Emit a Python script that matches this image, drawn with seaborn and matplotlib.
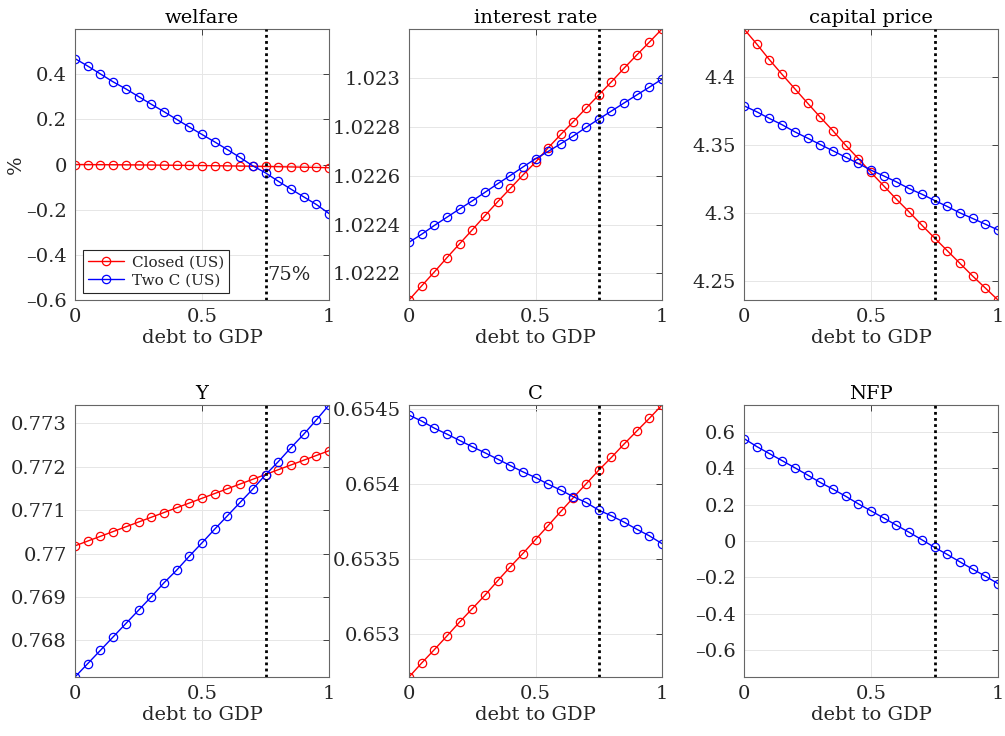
import numpy as np
import pandas as pd
import seaborn as sns
import matplotlib
matplotlib.use("Agg")
import matplotlib.pyplot as plt
from matplotlib.ticker import FuncFormatter, FixedLocator

# debt-to-GDP grid
debt = [0.00, 0.05, 0.10, 0.15, 0.20, 0.25, 0.30, 0.35, 0.40, 0.45, 0.50,
        0.55, 0.60, 0.65, 0.70, 0.75, 0.80, 0.85, 0.90, 0.95, 1.00]

# welfare (%)
welfare_closed = [0.000, -0.0003, -0.0006, -0.0010, -0.0014, -0.0018, -0.0023,
                  -0.0028, -0.0034, -0.0040, -0.0047, -0.0054, -0.0062, -0.0070,
                  -0.0079, -0.0088, -0.0098, -0.0108, -0.0119, -0.0130, -0.0142]
welfare_two = [0.469, 0.436, 0.401, 0.366, 0.335, 0.301, 0.267, 0.234, 0.200,
               0.166, 0.133, 0.100, 0.066, 0.031, -0.006, -0.037, -0.074,
               -0.109, -0.143, -0.177, -0.217]

# interest rate
rate_closed = [1.022090, 1.022148, 1.022205, 1.022264, 1.022321, 1.022378,
               1.022436, 1.022493, 1.022548, 1.022603, 1.022656, 1.022715,
               1.022770, 1.022823, 1.022878, 1.022932, 1.022986, 1.023042,
               1.023096, 1.023149, 1.023203]
rate_two = [1.022327, 1.022360, 1.022396, 1.022430, 1.022464, 1.022497,
            1.022532, 1.022567, 1.022601, 1.022636, 1.022670, 1.022700,
            1.022732, 1.022764, 1.022799, 1.022833, 1.022866, 1.022899,
            1.022932, 1.022964, 1.022997]

# capital price
price_closed = [4.4350, 4.4240, 4.4125, 4.4017, 4.3912, 4.3807, 4.3704,
                4.3604, 4.3498, 4.3400, 4.3298, 4.3200, 4.3102, 4.3009,
                4.2912, 4.2818, 4.2725, 4.2632, 4.2539, 4.2451, 4.2363]
price_two = [4.3787, 4.3743, 4.3694, 4.3648, 4.3596, 4.3550, 4.3503, 4.3457,
             4.3410, 4.3364, 4.3315, 4.3273, 4.3229, 4.3180, 4.3139, 4.3093,
             4.3049, 4.3002, 4.2961, 4.2919, 4.2877]

# output
y_closed = [0.770177, 0.770287, 0.770396, 0.770506, 0.770615, 0.770725,
            0.770835, 0.770944, 0.771054, 0.771163, 0.771273, 0.771383,
            0.771492, 0.771602, 0.771711, 0.771821, 0.771931, 0.772040,
            0.772150, 0.772259, 0.772369]
y_two = [0.767154, 0.767462, 0.767769, 0.768077, 0.768385, 0.768692,
         0.769000, 0.769323, 0.769615, 0.769938, 0.770246, 0.770562,
         0.770869, 0.771177, 0.771485, 0.771815, 0.772115, 0.772438,
         0.772746, 0.773077, 0.773423]

# consumption
c_closed = [0.652716, 0.652809, 0.652898, 0.652989, 0.653082, 0.653171,
            0.653260, 0.653356, 0.653449, 0.653538, 0.653631, 0.653724,
            0.653818, 0.653911, 0.654002, 0.654093, 0.654178, 0.654267,
            0.654353, 0.654438, 0.654527]
c_two = [0.654460, 0.654420, 0.654373, 0.654333, 0.654291, 0.654249,
         0.654209, 0.654167, 0.654124, 0.654082, 0.654044, 0.654000,
         0.653960, 0.653916, 0.653878, 0.653827, 0.653789, 0.653747,
         0.653700, 0.653656, 0.653604]

# net foreign position (two-country model only)
nfp_two = [0.565, 0.521, 0.482, 0.443, 0.404, 0.364, 0.323, 0.286, 0.247,
           0.205, 0.166, 0.127, 0.087, 0.048, 0.007, -0.035, -0.074, -0.115,
           -0.155, -0.194, -0.235]

series_names = ["Closed (US)", "Two C (US)"]
threshold = 0.75

panels = [
    ("welfare", welfare_closed, welfare_two, (-0.6, 0.6), [-0.6, -0.4, -0.2, 0, 0.2, 0.4]),
    ("interest rate", rate_closed, rate_two, (min(rate_closed), max(rate_closed)),
     [1.0222, 1.0224, 1.0226, 1.0228, 1.0230]),
    ("capital price", price_closed, price_two, (min(price_closed), max(price_closed)),
     [4.25, 4.30, 4.35, 4.40]),
    ("Y", y_closed, y_two, (min(y_two), max(y_two)),
     [0.768, 0.769, 0.770, 0.771, 0.772, 0.773]),
    ("C", c_closed, c_two, (min(c_closed), max(c_closed)),
     [0.6530, 0.6535, 0.6540, 0.6545]),
    ("NFP", None, nfp_two, (-0.75, 0.75), [-0.6, -0.4, -0.2, 0, 0.2, 0.4, 0.6]),
]

sns.set_theme(style="white")
plt.rcParams["font.family"] = ["DejaVu Serif"]

palette = {"Closed (US)": "#ff0000", "Two C (US)": "#0000ff"}
ink = "#262626"

fig = plt.figure(figsize=(10.05, 7.36), dpi=100)
W, H = 1005, 736
col_x = [(75, 329), (409, 662), (744, 998)]
row_y = [(29, 300), (405, 677)]


def fmt(v, pos):
    # compact number, with a short dash for negatives
    s = f"{v:.6g}"
    return s.replace("-", "\u2013")


for i, (name, closed, two, ylim, yticks) in enumerate(panels):
    r, c = divmod(i, 3)
    x0, x1 = col_x[c]
    y0, y1 = row_y[r]
    ax = fig.add_axes([x0 / W, 1 - y1 / H, (x1 - x0) / W, (y1 - y0) / H])

    frames = []
    if closed is not None:
        frames.append(pd.DataFrame({"debt": debt, "value": closed, "model": series_names[0]}))
    frames.append(pd.DataFrame({"debt": debt, "value": two, "model": series_names[1]}))
    df = pd.concat(frames, ignore_index=True)

    sns.lineplot(data=df, x="debt", y="value", hue="model", palette=palette,
                 ax=ax, marker="o", markersize=6, markerfacecolor="none",
                 markeredgewidth=0.9, linewidth=1.0, legend=False, sort=False,
                 estimator=None)
    for line in ax.get_lines():
        line.set_markeredgecolor(line.get_color())

    ax.axvline(threshold, color="black", linestyle=(0, (1, 1.2)), linewidth=2.0, zorder=5)

    ax.set_xlim(0, 1)
    ax.set_ylim(*ylim)
    ax.xaxis.set_major_locator(FixedLocator([0, 0.5, 1]))
    ax.yaxis.set_major_locator(FixedLocator(yticks))
    ax.xaxis.set_major_formatter(FuncFormatter(fmt))
    ax.yaxis.set_major_formatter(FuncFormatter(fmt))
    ax.grid(True, color="#e6e6e6", linewidth=0.7)
    ax.set_axisbelow(True)
    ax.tick_params(axis="both", which="major", direction="in", length=4,
                   width=0.6, color=ink, labelsize=14, labelcolor=ink,
                   top=True, right=True, pad=6)
    for sp in ax.spines.values():
        sp.set_color("#666666")
        sp.set_linewidth(0.8)

    ax.set_title(name, fontsize=14, color="black", pad=4)
    ax.set_xlabel("debt to GDP", fontsize=14, color=ink, labelpad=2)
    ax.set_ylabel("")

    if name == "welfare":
        # rotated unit label to the left of the tick labels
        ax.text(-0.232, 0.5, "%", transform=ax.transAxes, rotation=90,
                fontsize=14, color=ink, ha="center", va="center")
        handles = [plt.Line2D([], [], color=palette[s], marker="o", markersize=6,
                              markerfacecolor="none", markeredgewidth=0.9,
                              linewidth=1.0) for s in series_names]
        leg = ax.legend(handles, series_names, loc="lower left",
                        bbox_to_anchor=(0.031, 0.026), borderaxespad=0,
                        fontsize=11, frameon=True, fancybox=False, framealpha=1,
                        edgecolor=ink, handlelength=2.35, borderpad=0.35,
                        labelspacing=0.25, handletextpad=0.5)
        leg.get_frame().set_linewidth(0.8)
        ax.text(threshold + 0.008, -0.49, "75%", fontsize=14, color=ink,
                va="center", ha="left")

fig.savefig("out.png", dpi=100)
